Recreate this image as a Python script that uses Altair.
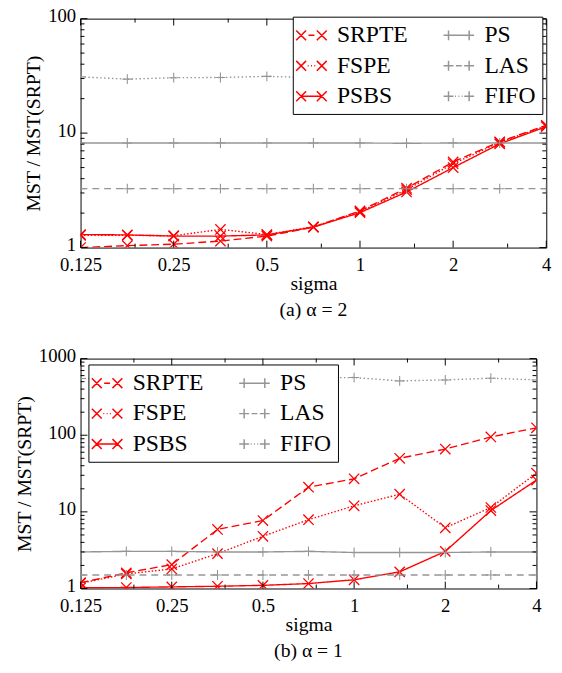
import altair as alt
import pandas as pd

# ---------------- data ----------------
SIGMA = [0.125, 0.177, 0.25, 0.354, 0.5, 0.707, 1.0, 1.414, 2.0, 2.828, 4.0]

A_SRPTE = [1.00, 1.04, 1.07, 1.14, 1.26, 1.51, 2.09, 3.30, 5.6, 8.4, 11.7]
A_FSPE = [1.28, 1.28, 1.27, 1.44, 1.30, 1.52, 2.06, 3.20, 5.4, 8.3, 11.6]
A_PSBS = [1.30, 1.29, 1.26, 1.26, 1.29, 1.51, 2.02, 3.06, 5.0, 8.06, 11.4]
A_PS = [8.2, 8.2, 8.2, 8.2, 8.2, 8.2, 8.2, 8.15, 8.2, 8.2, 8.2]
A_LAS = [3.27, 3.27, 3.27, 3.27, 3.27, 3.27, 3.27, 3.27, 3.27, 3.27, 3.27]
A_FIFO = [31.0, 29.6, 30.5, 30.6, 31.3, 30.5, 30.0, 30.0, 30.5, 30.0, 29.5]

B_SRPTE = [1.19, 1.60, 2.05, 5.9, 7.7, 21.0, 27.0, 50.0, 66.0, 95.0, 125.0]
B_FSPE = [1.17, 1.55, 1.80, 2.85, 4.8, 7.9, 12.0, 17.0, 6.2, 11.4, 32.0]
B_PSBS = [1.02, 1.03, 1.05, 1.07, 1.10, 1.16, 1.30, 1.65, 3.05, 10.4, 26.0]
B_PS = [3.0, 3.05, 3.05, 3.0, 3.0, 3.05, 2.95, 2.95, 2.95, 3.0, 3.0]
B_LAS = [1.5, 1.5, 1.5, 1.5, 1.5, 1.5, 1.5, 1.5, 1.5, 1.5, 1.5]
B_FIFO = [550, 560, 560, 560, 560, 560, 566, 512, 527, 555, 527]

ORDER = ["SRPTE", "FSPE", "PSBS", "PS", "LAS", "FIFO"]
RED_SERIES = ["SRPTE", "FSPE", "PSBS"]
GRAY_SERIES = ["PS", "LAS", "FIFO"]

X_MAJOR = [0.125, 0.25, 0.5, 1, 2, 4]
X_MINOR = [0.1875, 0.375, 0.75, 1.5, 3]
YA_MAJOR = [1, 10, 100]
YA_MINOR = [2, 3, 4, 5, 6, 7, 8, 9, 20, 30, 40, 50, 60, 70, 80, 90]
YB_MAJOR = [1, 10, 100, 1000]
YB_MINOR = YA_MINOR + [200, 300, 400, 500, 600, 700, 800, 900]


def long_df(d):
    rows = []
    for name, vals in d.items():
        for s, v in zip(SIGMA, vals):
            rows.append({"sigma": s, "value": v, "series": name})
    return pd.DataFrame(rows)


df_a = long_df({"SRPTE": A_SRPTE, "FSPE": A_FSPE, "PSBS": A_PSBS,
                "PS": A_PS, "LAS": A_LAS, "FIFO": A_FIFO})
df_b = long_df({"SRPTE": B_SRPTE, "FSPE": B_FSPE, "PSBS": B_PSBS,
                "PS": B_PS, "LAS": B_LAS, "FIFO": B_FIFO})

# ---------------- styles ----------------
RED = "#ff0000"
GRAY = "#959595"
FONT = "Liberation Serif"

COLOR = {s: (RED if s in RED_SERIES else GRAY) for s in ORDER}
DASH = {"SRPTE": [8, 4], "PS": [1, 0], "FSPE": [1.5, 2], "LAS": [7, 5],
        "PSBS": [1, 0], "FIFO": [1.5, 2.5]}
WIDTH = {"SRPTE": 1.9, "PS": 1.4, "FSPE": 1.4, "LAS": 1.4, "PSBS": 1.9, "FIFO": 1.4}

# different domain orders keep these (hidden) guides from merging into the legend
DASH_ORDER = list(reversed(ORDER))
STROKE_ORDER = sorted(ORDER)
WIDTH_ORDER = ORDER[3:] + ORDER[:3]

X_PATH = "M-1,-1L1,1M-1,1L1,-1"
PLUS_PATH = "M-1,0L1,0M0,-1L0,1"


def mk_x(cx, h=0.42):
    return f"M{cx-h},{-h}L{cx+h},{h}M{cx-h},{h}L{cx+h},{-h}"


def mk_plus(cx, h=0.42):
    return f"M{cx-h},0L{cx+h},0M{cx},{-h}L{cx},{h}"


def seg(a, b):
    return f"M{a},0L{b},0"


C = 0.875
SOLID = seg(-C, C)
DASHED = seg(-0.25, 0.25)
DOTTED = "".join(seg(c - 0.04, c + 0.04) for c in [-0.28, 0.0, 0.28])

LEG_PATH = {
    "SRPTE": DASHED + mk_x(-C) + mk_x(C),
    "FSPE": DOTTED + mk_x(-C) + mk_x(C),
    "PSBS": SOLID + mk_x(-C) + mk_x(C),
    "PS": SOLID + mk_plus(-C) + mk_plus(C),
    "LAS": DASHED + mk_plus(-C) + mk_plus(C),
    "FIFO": DOTTED + mk_plus(-C) + mk_plus(C),
}


def panel(df, ydom, ymaj, ymin, w, h, leg_x, leg_y, caption):
    xs = alt.Scale(type="log", base=2, domain=[0.125, 4], nice=False)
    ys = alt.Scale(type="log", domain=ydom, nice=False)
    color_scale = alt.Scale(domain=ORDER, range=[COLOR[s] for s in ORDER])

    x_axis = alt.Axis(values=X_MAJOR, format="~g", title="sigma", ticks=False,
                      domain=False, grid=False, labelOverlap=False,
                      labelPadding=8, titlePadding=0, labelFont=FONT,
                      labelFontSize=19, titleFont=FONT, titleFontSize=20,
                      titleFontWeight="normal", labelColor="black",
                      titleColor="black", labelFlush=False)
    y_axis = alt.Axis(values=ymaj, format="~g", title="MST / MST(SRPT)",
                      ticks=False, domain=False, grid=False,
                      labelOverlap=False, labelPadding=5, titlePadding=4,
                      labelOffset=-3,
                      labelFont=FONT, labelFontSize=19, titleFont=FONT,
                      titleFontSize=20, titleFontWeight="normal",
                      labelColor="black", titleColor="black", labelFlush=False)

    X = alt.X("sigma:Q", scale=xs, axis=x_axis)
    Y = alt.Y("value:Q", scale=ys, axis=y_axis)
    Xp = alt.X("sigma:Q", scale=xs)
    Yp = alt.Y("value:Q", scale=ys)

    base = alt.Chart(df)

    leg_kwargs = dict(title=None, orient="none", legendX=leg_x, legendY=leg_y,
                      columns=2, fillColor="white", strokeColor="black",
                      padding=6, rowPadding=6, columnPadding=32, labelOffset=13,
                      labelFont=FONT, labelFontSize=24, labelColor="black",
                      symbolSize=576, symbolStrokeWidth=1.5, symbolOpacity=1,
                      labelLimit=0)

    # first layer: carries axes and legend (draws nothing)
    legend_layer = base.transform_filter("false").mark_point(
        filled=False, size=576, strokeWidth=1.5
    ).encode(
        x=X, y=Y,
        color=alt.Color("series:N", scale=color_scale, legend=alt.Legend(**leg_kwargs)),
        shape=alt.Shape("series:N", scale=alt.Scale(domain=ORDER, range=[LEG_PATH[s] for s in ORDER]),
                        legend=alt.Legend(**leg_kwargs)),
    )

    lines = base.mark_line(clip=True).encode(
        x=Xp, y=Yp,
        stroke=alt.Stroke("series:N", scale=alt.Scale(domain=STROKE_ORDER, range=[COLOR[s] for s in STROKE_ORDER]), legend=None),
        strokeDash=alt.StrokeDash("series:N", scale=alt.Scale(domain=DASH_ORDER, range=[DASH[s] for s in DASH_ORDER]), legend=None),
        strokeWidth=alt.StrokeWidth("series:N", scale=alt.Scale(domain=WIDTH_ORDER, range=[WIDTH[s] for s in WIDTH_ORDER]), legend=None),
    )

    red_pts = base.transform_filter(
        alt.FieldOneOfPredicate(field="series", oneOf=RED_SERIES)
    ).mark_point(shape=X_PATH, filled=False, size=110, strokeWidth=1.3, color=RED, opacity=1, clip=True).encode(x=Xp, y=Yp)

    gray_pts = base.transform_filter(
        alt.FieldOneOfPredicate(field="series", oneOf=GRAY_SERIES)
    ).mark_point(shape=PLUS_PATH, filled=False, size=100, strokeWidth=1.1, color=GRAY, opacity=1, clip=True).encode(x=Xp, y=Yp)

    tick_len_major = 7
    tick_len_minor = 4
    xmaj = pd.DataFrame({"sigma": X_MAJOR})
    xmin = pd.DataFrame({"sigma": X_MINOR})
    ymajd = pd.DataFrame({"value": ymaj})
    ymind = pd.DataFrame({"value": ymin})

    ticks = []
    for d, L in [(xmaj, tick_len_major), (xmin, tick_len_minor)]:
        ticks.append(alt.Chart(d).mark_rule(color="black", strokeWidth=1).encode(
            x=Xp, y=alt.value(h), y2=alt.value(h - L)))
        ticks.append(alt.Chart(d).mark_rule(color="black", strokeWidth=1).encode(
            x=Xp, y=alt.value(0), y2=alt.value(L)))
    for d, L in [(ymajd, tick_len_major), (ymind, tick_len_minor)]:
        ticks.append(alt.Chart(d).mark_rule(color="black", strokeWidth=1).encode(
            y=Yp, x=alt.value(0), x2=alt.value(L)))
        ticks.append(alt.Chart(d).mark_rule(color="black", strokeWidth=1).encode(
            y=Yp, x=alt.value(w), x2=alt.value(w - L)))

    return alt.layer(legend_layer, lines, red_pts, gray_pts, *ticks).properties(
        width=w, height=h,
        title=alt.TitleParams(text=caption, orient="bottom", anchor="middle",
                              font=FONT, fontSize=20, fontWeight="normal",
                              color="black", offset=7),
    )


pa = panel(df_a, [1, 100], YA_MAJOR, YA_MINOR, 474, 233, 216, -2, "(a) α = 2")
pb = panel(df_b, [1, 1000], YB_MAJOR, YB_MINOR, 464, 234, 8, 6, "(b) α = 1")

chart = alt.concat(pa, pb, columns=1, spacing=25, align="none").resolve_scale(
    color="independent", shape="independent", strokeDash="independent",
    strokeWidth="independent", stroke="independent", x="independent", y="independent"
).resolve_legend(
    color="independent", shape="independent"
).properties(
    padding={"top": 0, "left": 14, "right": 10, "bottom": 4}
).configure_view(stroke="black", strokeWidth=1)

chart.save("out.html", embed_options={"renderer": "svg", "actions": False})
